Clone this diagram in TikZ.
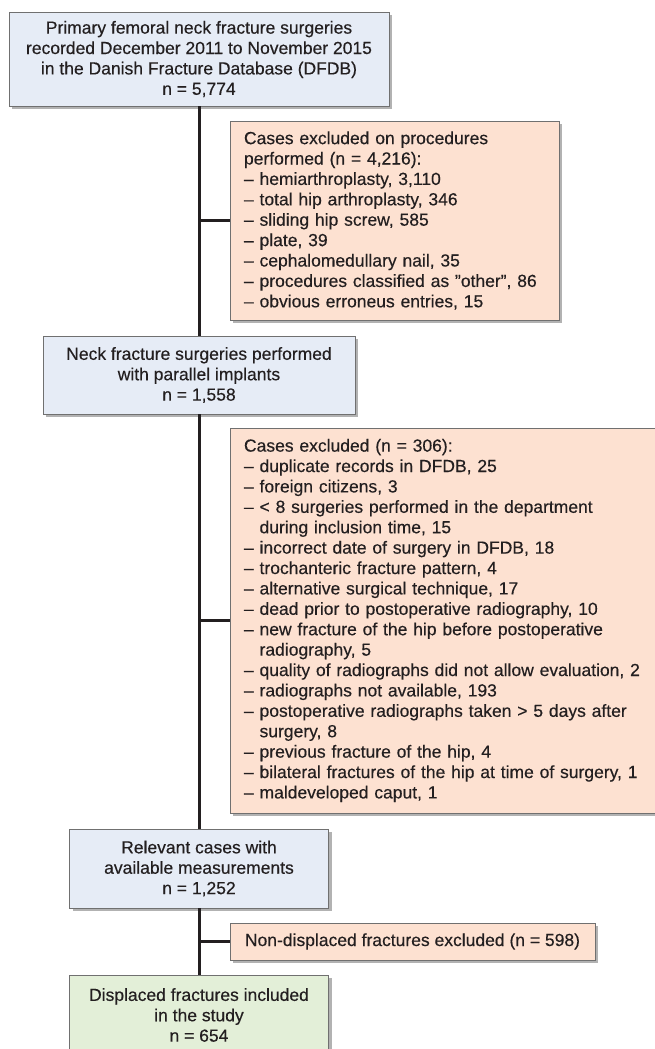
\documentclass[tikz,border=0pt]{standalone}
\usepackage{fontspec}
\setmainfont[FakeBold=0.35]{Liberation Sans}
\usetikzlibrary{shadows}
\definecolor{bluefill}{HTML}{E6ECF6}
\definecolor{orangefill}{HTML}{FDE1D1}
\definecolor{greenfill}{HTML}{E3EFD8}
\definecolor{boxline}{HTML}{707070}
\definecolor{ink}{HTML}{231F20}
\tikzset{
  base/.style={draw=boxline, line width=0.8pt, text=ink,
    font=\fontsize{17.5}{20.4}\selectfont, inner sep=0pt,
    drop shadow={shadow xshift=3pt, shadow yshift=-3pt, opacity=0.3, fill=black}},
  mainbox/.style={base, fill=bluefill, align=center},
  finalbox/.style={base, fill=greenfill, align=center},
  exbox/.style={base, fill=orangefill, align=left},
  trunk/.style={draw=ink, line width=3pt}
}
\newcommand{\ind}{\hphantom{– }}
\begin{document}
\begin{tikzpicture}[x=1pt,y=-1pt]
\useasboundingbox (0,0) rectangle (654,1049);
\node[mainbox, minimum width=380pt, minimum height=94pt] (b1) at (199,59)
  {Primary femoral neck fracture surgeries\\recorded December 2011 to November 2015\\in the Danish Fracture Database (DFDB)\\n = 5,774};
\node[exbox, minimum width=329pt, minimum height=199pt, text width=301pt] (e1) at (394.5,220.5)
  {Cases excluded on procedures\\performed (n = 4,216):\\– hemiarthroplasty, 3,110\\– total hip arthroplasty, 346\\– sliding hip screw, 585\\– plate, 39\\– cephalomedullary nail, 35\\– procedures classified as ”other”, 86\\– obvious erroneus entries, 15};
\node[mainbox, minimum width=312pt, minimum height=78pt] (b3) at (199,375)
  {Neck fracture surgeries performed\\with parallel implants\\n = 1,558};
\node[exbox, minimum width=434pt, minimum height=385pt, text width=406pt] (e2) at (447,620.5)
  {Cases excluded (n = 306):\\
   – duplicate records in DFDB, 25\\
   – foreign citizens, 3\\
   – < 8 surgeries performed in the department\\
   \ind during inclusion time, 15\\
   – incorrect date of surgery in DFDB, 18\\
   – trochanteric fracture pattern, 4\\
   – alternative surgical technique, 17\\
   – dead prior to postoperative radiography, 10\\
   – new fracture of the hip before postoperative\\
   \ind radiography, 5\\
   – quality of radiographs did not allow evaluation, 2\\
   – radiographs not available, 193\\
   – postoperative radiographs taken > 5 days after\\
   \ind surgery, 8\\
   – previous fracture of the hip, 4\\
   – bilateral fractures of the hip at time of surgery, 1\\
   – maldeveloped caput, 1};
\node[mainbox, minimum width=259pt, minimum height=79pt] (b4) at (199,868.5)
  {Relevant cases with\\available measurements\\n = 1,252};
\node[exbox, minimum width=365pt, minimum height=37pt, align=center] (e3) at (412.5,941.5)
  {Non-displaced fractures excluded (n = 598)};
\node[finalbox, minimum width=259pt, minimum height=80pt] (b5) at (199,1015)
  {Displaced fractures included\\in the study\\n = 654};
\draw[trunk] (b1.south) -- (b3.north);
\draw[trunk] (b3.south) -- (b4.north);
\draw[trunk] (b4.south) -- (b5.north);
\draw[trunk] (b1.south |- e1.west) -- (e1.west);
\draw[trunk] (b3.south |- e2.west) -- (e2.west);
\draw[trunk] (b4.south |- e3.west) -- (e3.west);
\end{tikzpicture}
\end{document}
